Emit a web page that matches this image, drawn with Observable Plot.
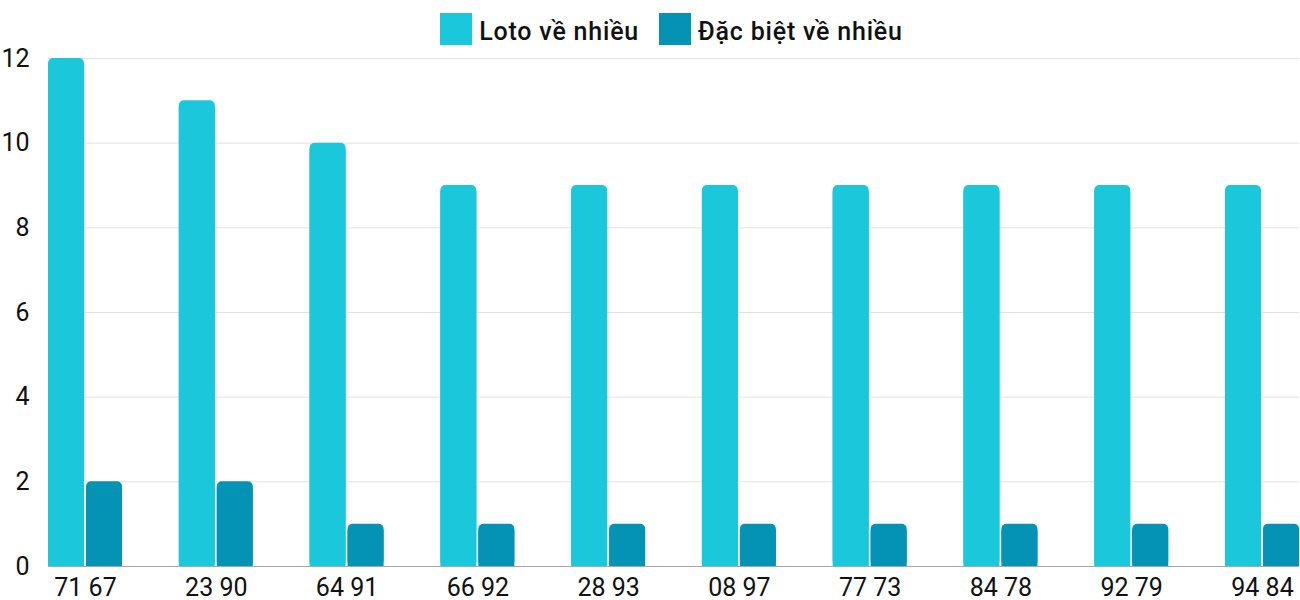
<!DOCTYPE html>
<html>
<head>
<meta charset="utf-8">
<script src="https://cdn.jsdelivr.net/npm/d3@7"></script>
<script src="https://cdn.jsdelivr.net/npm/@observablehq/plot@0.6"></script>
<style>
  html, body { margin: 0; padding: 0; background: #fff; }
  body { width: 1300px; height: 600px; overflow: hidden; font-family: Roboto, sans-serif; }
  #legend { height: 46px; box-sizing: border-box; padding-top: 13px; margin-left: 43px; width: 1257px;
            display: flex; justify-content: center; align-items: flex-start; }
  .item { display: flex; align-items: flex-start; margin: 0 10px; }
  .sw { width: 32px; height: 32px; }
  .lab { font-size: 25px; font-weight: 500; letter-spacing: 0.8px; line-height: 32px; color: #111; margin-left: 7px; position: relative; top: 3px; }
  #chart svg { display: block; }
</style>
</head>
<body>
<div id="legend"></div>
<div id="chart"></div>
<script>
const categories = ["71 67","23 90","64 91","66 92","28 93","08 97","77 73","84 78","92 79","94 84"];
const lotoValues = [12, 11, 10, 9, 9, 9, 9, 9, 9, 9];
const dacBietValues = [2, 2, 1, 1, 1, 1, 1, 1, 1, 1];
const seriesNames = ["Loto về nhiều", "Đặc biệt về nhiều"];
const seriesColors = ["#1bc8db", "#0593b5"];
const yTicks = [0, 2, 4, 6, 8, 10, 12];

const loto = categories.map((c, i) => ({cat: c, value: lotoValues[i]}));
const db = categories.map((c, i) => ({cat: c, value: dacBietValues[i]}));

const legend = document.getElementById("legend");
seriesNames.forEach((n, i) => {
  const it = document.createElement("div");
  it.className = "item";
  it.innerHTML = `<div class="sw" style="background:${seriesColors[i]}"></div><div class="lab">${n}</div>`;
  legend.appendChild(it);
});

// rounded top corners: a rounded bar plus a square bar overlay that starts below the rounding
function roundedTopBar(data, fill, insetLeft, insetRight) {
  return [
    Plot.barY(data, {x: "cat", y: "value", fill, insetLeft, insetRight, rx: 5, ry: 5}),
    Plot.barY(data, {x: "cat", y: "value", fill, insetLeft, insetRight, insetTop: 6})
  ];
}

const chart = Plot.plot({
  width: 1300,
  height: 554,
  marginTop: 12,
  marginBottom: 34,
  marginLeft: 48,
  marginRight: 1,
  style: {fontFamily: "Roboto, sans-serif", fontSize: "25px", color: "#111", background: "#fff"},
  x: {domain: categories, paddingInner: 0.434, paddingOuter: 0, align: 0.5, round: false, label: null},
  y: {domain: [0, 12], label: null},
  marks: [
    Plot.ruleY(yTicks.filter(d => d > 0), {stroke: "#e2e2e2", strokeWidth: 1}),
    ...roundedTopBar(loto, seriesColors[0], 0, 38),
    ...roundedTopBar(db, seriesColors[1], 38, 0),
    Plot.ruleY([0], {stroke: "#a8a8a8", strokeWidth: 1}),
    Plot.axisX({tickSize: 0, tickPadding: 12, label: null, fontSize: 25}),
    Plot.axisY({ticks: yTicks, tickSize: 0, tickPadding: 19, label: null, fontSize: 25})
  ]
});
document.getElementById("chart").appendChild(chart);
</script>
</body>
</html>
